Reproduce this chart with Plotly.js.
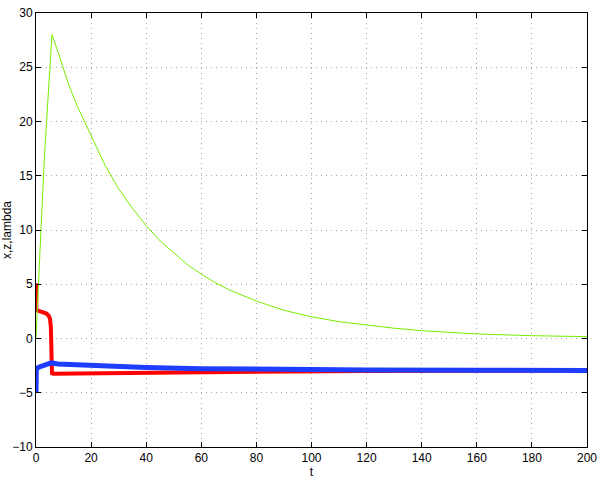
<!DOCTYPE html>
<html>
<head>
<meta charset="utf-8">
<script src="https://cdn.plot.ly/plotly-3.0.1.min.js"></script>
<style>
  html, body { margin: 0; padding: 0; background: #fff; }
  #chart { width: 599px; height: 480px; }
</style>
</head>
<body>
<div id="chart"></div>
<script>
// values
const tX = [0, 0.15, 1, 2.5, 3.8, 4.6, 5.1, 5.4, 5.6, 5.8, 6.2, 20, 40, 80, 120, 160, 200];
const xVals = [5.1, 2.6, 2.55, 2.45, 2.3, 2.1, 1.8, 1.0, -1.5, -3.2, -3.25, -3.2, -3.15, -3.07, -3.0, -2.97, -2.95];

const tZ = [0, 0.1, 1, 3, 5.5, 8, 20, 40, 60, 80, 120, 160, 200];
const zVals = [-5, -2.8, -2.65, -2.45, -2.25, -2.35, -2.5, -2.68, -2.78, -2.85, -2.9, -2.93, -2.95];

const tLambda = [0, 0.5, 1.8, 3.2, 5.8, 8, 10, 12, 15, 20, 25, 30, 35, 40, 45, 50, 55, 60, 65, 70, 80, 90, 100, 110, 120, 130, 140, 160, 180, 200];
const lambdaVals = [0, 3, 10, 17.4, 28, 26.4, 24.9, 23.3, 21.4, 18.7, 16.0, 13.8, 12.0, 10.4, 9.0, 7.9, 6.8, 5.95, 5.15, 4.5, 3.45, 2.6, 2.0, 1.55, 1.22, 0.95, 0.72, 0.42, 0.26, 0.17];

const xTicks = [0, 20, 40, 60, 80, 100, 120, 140, 160, 180, 200];
const yTicks = [-10, -5, 0, 5, 10, 15, 20, 25, 30];

const x = {
  x: tX, y: xVals, name: 'x', type: 'scatter', mode: 'lines',
  line: { color: '#ff0000', width: 4 }
};
const z = {
  x: tZ, y: zVals, name: 'z', type: 'scatter', mode: 'lines',
  line: { color: '#1f3dff', width: 5 }
};
const lambda = {
  x: tLambda, y: lambdaVals, name: 'lambda', type: 'scatter', mode: 'lines',
  line: { color: '#77ee00', width: 1 }
};

const axisStyle = {
  showline: true, linecolor: '#000', linewidth: 1, mirror: 'ticks',
  ticks: 'inside', ticklen: 5, tickcolor: '#000',
  showgrid: true, gridcolor: '#a8a8a8', griddash: '1px,4px', gridwidth: 1,
  zeroline: false,
  tickfont: { family: 'Liberation Sans, Arial, sans-serif', size: 12, color: '#000' }
};

const layout = {
  width: 599, height: 480,
  showlegend: false,
  paper_bgcolor: '#fff', plot_bgcolor: '#fff',
  margin: { l: 36, r: 12, t: 13, b: 33 },
  xaxis: Object.assign({}, axisStyle, {
    range: [0, 200], tickvals: xTicks,
    title: { text: 't', standoff: 2, font: { family: 'Liberation Sans, Arial, sans-serif', size: 12, color: '#000' } }
  }),
  yaxis: Object.assign({}, axisStyle, {
    range: [-10, 30], tickvals: yTicks,
    title: { text: 'x,z,lambda', standoff: 6, font: { family: 'Liberation Sans, Arial, sans-serif', size: 12, color: '#000' } }
  })
};

Plotly.newPlot('chart', [x, z, lambda], layout, { displayModeBar: false, staticPlot: true });
</script>
</body>
</html>
